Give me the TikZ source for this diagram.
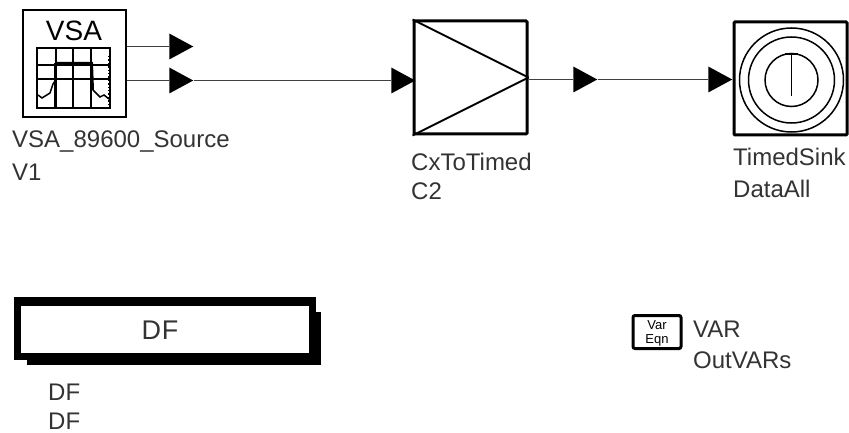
\documentclass[tikz,border=0pt]{standalone}
\usepackage{fontspec}
\setmainfont{Liberation Sans}
\usetikzlibrary{shapes.geometric}
\tikzset{
	block/.style={draw, line width=3pt, rounded corners=1pt, inner sep=0pt, minimum width=113pt, minimum height=113pt},
	port/.style={isosceles triangle, isosceles triangle stretches, draw=none, fill=black, inner sep=0pt, minimum width=26pt, minimum height=24pt},
	wire/.style={line width=1.6pt, black!75},
	partlabel/.style={anchor=base west, inner sep=0pt, text=black!80, font=\fontsize{24}{26}\selectfont}
}

\begin{document}
\begin{tikzpicture}[x=1pt, y=-1pt]
		\useasboundingbox (0,0) rectangle (849,433);
		\node[draw, line width=2pt, inner sep=0pt, minimum width=103pt, minimum height=107pt] (vsa) at (74.5,63.5) {};
		\node[inner sep=0pt, font=\fontsize{28}{28}\selectfont] (vsatitle) at (74,31) {VSA};
		\draw[line width=1.6pt] (37,48) rectangle (110,108);
		\foreach \gx in {56,73,91} \draw[line width=1.5pt] (\gx,48) -- (\gx,108);
		\foreach \gy in {65,79} \draw[line width=1.5pt] (37,\gy) -- (110,\gy);
		\draw[line width=2.2pt] (38,108) -- (110,108);
		\draw[line width=2.2pt] (55,63) -- (55,108);
		\draw[line width=2pt] (57,63) -- (92,63) -- (93,90);
		\draw[line width=1.5pt] (38,95) -- (42,98) -- (50,93) -- (53,84) -- (55,81);
		\draw[line width=1.5pt] (93,90) -- (100,97) -- (104,95) -- (109,99);
		\draw[line width=1.4pt, dotted] (109,56) -- (109,107);

		\node[port] (out1) at (177,46.5) {};
		\node[port] (out2) at (177,80.5) {};
		\node[port] (c2in) at (399,80.5) {};
		\node[block] (c2) at (470.5,77.5) {};
		\node[port] (c2out) at (581,79.5) {};
		\node[port] (sinkin) at (716,79.5) {};
		\node[block] (sink) at (790.5,78.5) {};

		\draw[wire] (vsa.east |- out1) -- (out1);
		\draw[wire] (vsa.east |- out2) -- (out2);
		\draw[wire] (out2) -- (c2in);
		\draw[wire] (c2.east |- c2out) -- (c2out);
		\draw[wire] (c2out) -- (sinkin);

		\draw[line width=2pt] (c2.north west) -- (c2.east);
		\draw[line width=2pt] (c2.south west) -- (c2.east);

		\node[draw, circle, line width=1.5pt, minimum size=104pt, inner sep=0pt] (ring1) at (791.5,80) {};
		\node[draw, circle, line width=1.5pt, minimum size=86pt, inner sep=0pt] (ring2) at (ring1) {};
		\node[draw, circle, line width=1.5pt, minimum size=53pt, inner sep=0pt] (ring3) at (ring1) {};
		\draw[line width=1.6pt] (ring3.north) -- (ring1.center |- 0,96);
		\draw[line width=2pt] (785,54.5) -- (798,54.5);

		\fill (14,297) rectangle (316,360);
		\fill (27,312) rectangle (321,365);
		\node[fill=white, inner sep=0pt, minimum width=288pt, minimum height=47pt] (df) at (165,329.5) {};
		\node[anchor=base, inner sep=0pt, text=black!80, font=\fontsize{27}{27}\selectfont] (dftitle) at (160,339) {D\kern1pt F};

		\node[draw, line width=3pt, rounded corners=2pt, inner sep=0pt, minimum width=48pt, minimum height=33pt] (var) at (657,332) {};
		\node[anchor=base, inner sep=0pt, font=\fontsize{13}{13}\selectfont] (vartop) at (657,329) {Var};
		\node[anchor=base, inner sep=0pt, font=\fontsize{13}{13}\selectfont] (varbot) at (657,343) {Eqn};

		\node[partlabel] (vsaname) at (12,148) {VSA\_89600\_Source};
		\node[partlabel] (vsainst) at (12,180) {V1};
		\node[partlabel] (c2name) at (411,171) {CxToTimed};
		\node[partlabel] (c2inst) at (411,200) {C2};
		\node[partlabel] (sinkname) at (733,166) {TimedSink};
		\node[partlabel] (sinkinst) at (733,197) {DataAll};
		\node[partlabel] (dfname) at (48,400) {DF};
		\node[partlabel] (dfinst) at (48,429) {DF};
		\node[partlabel] (varname) at (693,337) {VAR};
		\node[partlabel] (varinst) at (693,368) {OutVARs};
	\end{tikzpicture}
\end{document}
